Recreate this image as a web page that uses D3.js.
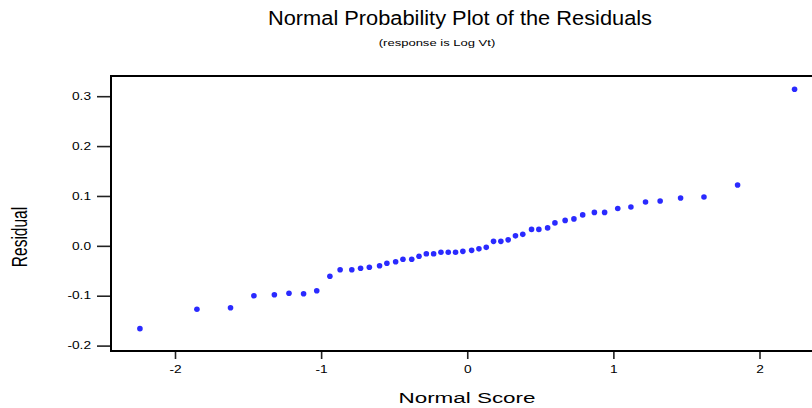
<!DOCTYPE html>
<html>
<head>
<meta charset="utf-8">
<script src="https://cdn.jsdelivr.net/npm/d3@7"></script>
<style>
  body { margin: 0; background: #fff; }
  svg { display: block; font-family: "Liberation Sans", Arial, sans-serif; }
</style>
</head>
<body>
<div id="chart"></div>
<script>
// normal scores and residuals (50 obs, sorted)
var normalScores = [-2.24, -1.85, -1.62, -1.46, -1.32, -1.22, -1.12, -1.03, -0.94, -0.87,
                    -0.79, -0.73, -0.67, -0.60, -0.55, -0.49, -0.44, -0.38, -0.33, -0.28,
                    -0.23, -0.18, -0.13, -0.08, -0.03, 0.03, 0.08, 0.13, 0.18, 0.23,
                    0.28, 0.33, 0.38, 0.44, 0.49, 0.55, 0.60, 0.67, 0.73, 0.79,
                    0.87, 0.94, 1.03, 1.12, 1.22, 1.32, 1.46, 1.62, 1.85, 2.24];
var residuals = [-0.166, -0.127, -0.124, -0.100, -0.098, -0.095, -0.096, -0.090, -0.061, -0.048,
                 -0.048, -0.045, -0.043, -0.040, -0.035, -0.032, -0.027, -0.027, -0.021, -0.016,
                 -0.016, -0.013, -0.013, -0.013, -0.011, -0.009, -0.006, -0.003, 0.009, 0.009,
                 0.012, 0.020, 0.023, 0.033, 0.033, 0.036, 0.046, 0.051, 0.054, 0.062,
                 0.067, 0.067, 0.075, 0.078, 0.088, 0.090, 0.096, 0.098, 0.122, 0.314];
var xTicks = [-2, -1, 0, 1, 2];
var xTickLabels = ["-2", "-1", "0", "1", "2"];
var yTicks = [-0.2, -0.1, 0.0, 0.1, 0.2, 0.3];
var yTickLabels = ["-0.2", "-0.1", "0.0", "0.1", "0.2", "0.3"];

var W = 812, H = 408;
var box = {left: 111, top: 76, bottom: 351};
var XSTRETCH = 1.37;   // the original graph is squashed wider than tall

var svg = d3.select("#chart").append("svg")
    .attr("width", W)
    .attr("height", H);

var x = d3.scaleLinear().domain([-2, 2]).range([175, 759.5]);
var y = d3.scaleLinear().domain([-0.2, 0.3]).range([345.6, 96.2]);

// widen text horizontally like the source picture
function stretch(sel, k) {
  sel.each(function() {
    var w = this.getComputedTextLength();
    d3.select(this).attr("textLength", w * k).attr("lengthAdjust", "spacingAndGlyphs");
  });
}

// frame (no right edge, it runs off the picture)
svg.append("path")
    .attr("d", "M" + (W + 10) + "," + box.top + "H" + box.left + "V" + box.bottom + "H" + (W + 10))
    .attr("fill", "none")
    .attr("stroke", "#000")
    .attr("stroke-width", 2);

// y axis
var yAxis = svg.append("g")
    .attr("transform", "translate(" + (box.left - 1) + ",0)")
    .call(d3.axisLeft(y).tickValues(yTicks).tickSize(13).tickPadding(6)
      .tickFormat(function(d, i) { return yTickLabels[i]; }));
yAxis.select(".domain").remove();
yAxis.selectAll(".tick line").attr("stroke", "#222").attr("stroke-width", 1.6);
yAxis.selectAll(".tick text")
    .attr("fill", "#000")
    .style("font-size", "10px")
    .style("font-family", "'Liberation Sans', Arial, sans-serif")
    .call(stretch, XSTRETCH);

// x axis
var xAxis = svg.append("g")
    .attr("transform", "translate(0," + (box.bottom + 1) + ")")
    .call(d3.axisBottom(x).tickValues(xTicks).tickSize(7).tickPadding(7)
      .tickFormat(function(d, i) { return xTickLabels[i]; }));
xAxis.select(".domain").remove();
xAxis.selectAll(".tick line").attr("stroke", "#222").attr("stroke-width", 1.6);
xAxis.selectAll(".tick text")
    .attr("fill", "#000")
    .style("font-size", "10px")
    .style("font-family", "'Liberation Sans', Arial, sans-serif")
    .call(stretch, XSTRETCH);

// points
var pts = normalScores.map(function(d, i) { return {ns: d, r: residuals[i]}; });
svg.selectAll(".pt")
    .data(pts)
    .enter().append("circle")
    .attr("class", "pt")
    .attr("cx", d => x(d.ns))
    .attr("cy", d => y(d.r))
    .attr("r", 2.8)
    .style("fill", "#2a2aff");

// titles
svg.append("text")
    .attr("x", 460).attr("y", 25)
    .attr("text-anchor", "middle")
    .style("font-size", "20px")
    .attr("textLength", 384)
    .attr("lengthAdjust", "spacingAndGlyphs")
    .text("Normal Probability Plot of the Residuals");

svg.append("text")
    .attr("x", 437).attr("y", 46)
    .attr("text-anchor", "middle")
    .style("font-size", "9.5px")
    .text("(response is Log Vt)")
    .call(stretch, XSTRETCH);

svg.append("text")
    .attr("x", 467).attr("y", 403)
    .attr("text-anchor", "middle")
    .style("font-size", "15.5px")
    .attr("textLength", 137)
    .attr("lengthAdjust", "spacingAndGlyphs")
    .text("Normal Score");

// y axis label, rotated
svg.append("text")
    .attr("transform", "translate(27,237) rotate(-90) scale(1,1.37)")
    .attr("text-anchor", "middle")
    .style("font-size", "15.5px")
    .text("Residual");
</script>
</body>
</html>
